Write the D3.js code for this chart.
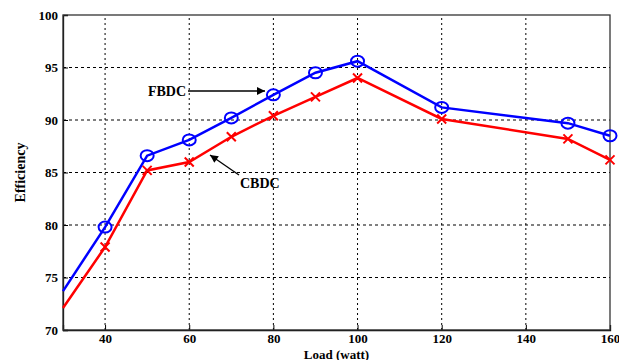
<!DOCTYPE html>
<html><head><meta charset="utf-8">
<script src="https://cdn.jsdelivr.net/npm/d3@7"></script>
<style>body{margin:0;background:#fff}svg{display:block}</style>
</head><body>
<script>
const loads = [30, 40, 50, 60, 70, 80, 90, 100, 120, 150, 160];
const fbdc = [73.7, 79.8, 86.6, 88.1, 90.2, 92.4, 94.5, 95.6, 91.2, 89.7, 88.5];
const cbdc = [72.1, 77.9, 85.2, 86.0, 88.4, 90.4, 92.2, 94.0, 90.1, 88.2, 86.2];
const xTicks = [40, 60, 80, 100, 120, 140, 160];
const yTicks = [70, 75, 80, 85, 90, 95, 100];

const FONT = "'Liberation Serif', 'Times New Roman', 'DejaVu Serif', serif";
const W = 619, H = 360;
const m = {l: 63, r: 9, t: 15, b: 30};
const svg = d3.select("body").append("svg").attr("width", W).attr("height", H)
  .attr("font-family", FONT).attr("font-weight", "bold");
const x = d3.scaleLinear().domain([30, 160]).range([m.l, W - m.r]);
const y = d3.scaleLinear().domain([70, 100]).range([H - m.b, m.t]);

// grid
const g = svg.append("g");
g.selectAll(".vg").data(xTicks.filter(d => d < 160)).enter().append("line")
  .attr("x1", d => x(d)).attr("x2", d => x(d)).attr("y1", y(70)).attr("y2", y(100))
  .attr("stroke", "#000").attr("stroke-width", 1).attr("stroke-dasharray", "2,3");
g.selectAll(".hg").data(yTicks.filter(d => d > 70 && d < 100)).enter().append("line")
  .attr("x1", x(30)).attr("x2", x(160)).attr("y1", d => y(d)).attr("y2", d => y(d))
  .attr("stroke", "#000").attr("stroke-width", 1).attr("stroke-dasharray", "3,3");

// axes
const xa = svg.append("g").attr("transform", `translate(0,${y(70)})`)
  .call(d3.axisBottom(x).tickValues(xTicks).tickSize(-5).tickPadding(4));
const ya = svg.append("g").attr("transform", `translate(${x(30)},0)`)
  .call(d3.axisLeft(y).tickValues(yTicks).tickSize(-5).tickPadding(5));
[xa, ya].forEach(a => {
  a.attr("font-family", FONT).attr("font-weight", "bold").attr("font-size", 13);
  a.selectAll("text").attr("fill", "#000");
  a.select(".domain").attr("stroke", "#000").attr("stroke-width", 1.3);
  a.selectAll(".tick line").attr("stroke", "#000");
});
// frame top/right
svg.append("rect").attr("x", x(30)).attr("y", y(100)).attr("width", x(160) - x(30)).attr("height", y(70) - y(100))
  .attr("fill", "none").attr("stroke", "#333").attr("stroke-width", 1.3);

const line = d3.line().x((d, i) => x(loads[i])).y(d => y(d));
svg.append("path").datum(cbdc).attr("d", line).attr("fill", "none").attr("stroke", "#ff0000").attr("stroke-width", 2.5);
svg.append("path").datum(fbdc).attr("d", line).attr("fill", "none").attr("stroke", "#0000ff").attr("stroke-width", 2.5);

// markers (skip first point at axis start)
const pts = loads.map((l, i) => i).filter(i => loads[i] > 30);
svg.selectAll(".xm").data(pts).enter().append("path")
  .attr("d", i => { const cx = x(loads[i]), cy = y(cbdc[i]), s = 4.5;
    return `M${cx-s},${cy-s}L${cx+s},${cy+s}M${cx-s},${cy+s}L${cx+s},${cy-s}`; })
  .attr("stroke", "#ff0000").attr("stroke-width", 2).attr("fill", "none");
svg.selectAll(".om").data(pts).enter().append("ellipse")
  .attr("cx", i => x(loads[i])).attr("cy", i => y(fbdc[i])).attr("rx", 6.5).attr("ry", 5.5)
  .attr("stroke", "#0000ff").attr("stroke-width", 2).attr("fill", "none");

// annotations
const defs = svg.append("defs");
defs.append("marker").attr("id", "ah").attr("viewBox", "0 0 10 10").attr("refX", 10).attr("refY", 5)
  .attr("markerWidth", 11).attr("markerHeight", 8).attr("markerUnits", "userSpaceOnUse").attr("orient", "auto")
  .append("path").attr("d", "M0,0L10,5L0,10z").attr("fill", "#000");
svg.append("text").attr("x", 186).attr("y", 95.5).attr("text-anchor", "end").attr("font-size", 14).text("FBDC");
svg.append("line").attr("x1", 188).attr("y1", 91).attr("x2", 265).attr("y2", 91)
  .attr("stroke", "#000").attr("stroke-width", 1.3).attr("marker-end", "url(#ah)");
svg.append("text").attr("x", 240).attr("y", 188).attr("font-size", 14).text("CBDC");
svg.append("line").attr("x1", 239).attr("y1", 175).attr("x2", 210).attr("y2", 155)
  .attr("stroke", "#000").attr("stroke-width", 1.3).attr("marker-end", "url(#ah)");

// axis titles
svg.append("text").attr("x", (x(30) + x(160)) / 2).attr("y", 358.5).attr("text-anchor", "middle")
  .attr("font-size", 13).text("Load (watt)");
svg.append("text").attr("transform", `translate(25,${(y(70) + y(100)) / 2}) rotate(-90)`)
  .attr("text-anchor", "middle").attr("font-size", 14).text("Efficiency");
</script>
</body></html>
